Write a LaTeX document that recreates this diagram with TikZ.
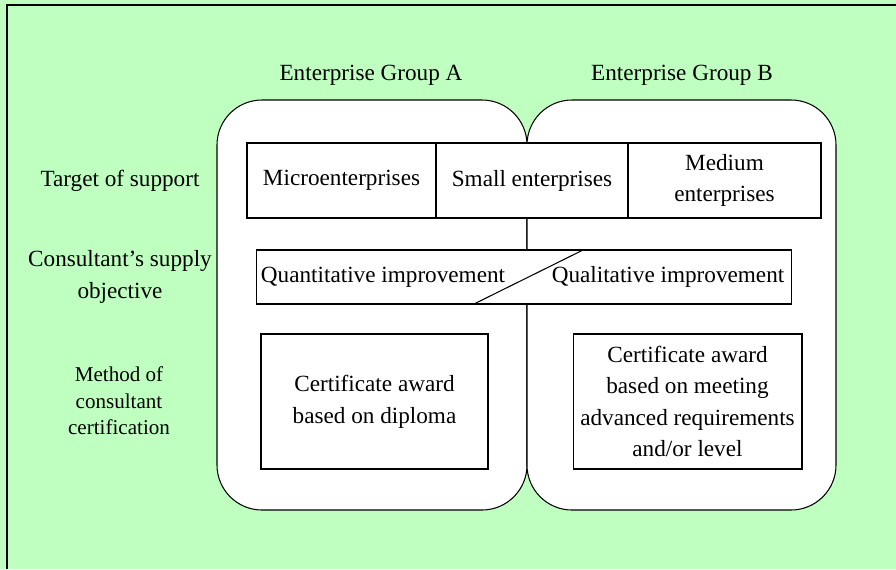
\documentclass[tikz,border=0pt]{standalone}
\usepackage{fontspec}
\setmainfont{Liberation Serif}
\definecolor{bggreen}{RGB}{191,255,191}
\tikzset{
  cell/.style={draw, fill=white, line width=0.6pt, inner sep=0pt, align=center,
               font=\fontsize{13.2}{18}\selectfont},
  lbl/.style={align=center, font=\fontsize{13.2}{18}\selectfont},
  grp/.style={draw, fill=white, line width=0.6pt, rounded corners=0.9cm}
}
\begin{document}
  \begin{tikzpicture}[x=0.02cm, y=-0.02cm]
    \useasboundingbox (0, 0) rectangle (896, 569);
    \fill[bggreen] (0, 0) rectangle (896, 569);
    \draw[line width=0.9pt] (7, 569) -- (7, 5) -- (896, 5);
    \draw[grp] (217, 100) rectangle (527, 510);
    \draw[grp] (527, 100) rectangle (836, 510);
    \node[lbl] (grpA) at (371, 75) {Enterprise Group A};
    \node[lbl] (grpB) at (682, 75) {Enterprise Group B};
    \node[lbl] (target) at (120, 181) {Target of support};
    \node[lbl] (objective) at (120, 277) {Consultant's supply\\objective};
    \node[lbl, font=\fontsize{12}{15}\selectfont] (method) at (119, 401)
      {Method of\\consultant\\certification};
    \node[cell, minimum width=3.78cm, minimum height=1.5cm] (micro) at (341.5, 180.5) {Microenterprises};
    \node[cell, minimum width=3.84cm, minimum height=1.5cm] (small) at (532, 180.5) {Small enterprises};
    \node[cell, minimum width=3.86cm, minimum height=1.5cm] (medium) at (724.5, 180.5) {Medium\\enterprises};
    \node[cell, minimum width=10.72cm, minimum height=1.08cm] (supply) at (524, 277) {};
    \node[lbl] (quant) at (383, 277) {Quantitative improvement};
    \node[lbl] (qual) at (668, 277) {Qualitative improvement};
    \coordinate (slashtop) at (583, 250);
    \coordinate (slashbot) at (474, 304);
    \draw[line width=0.6pt] (slashtop) -- (slashbot);
    \node[cell, minimum width=4.54cm, minimum height=2.7cm] (diploma) at (374.5, 401.5)
      {Certificate award\\based on diploma};
    \node[cell, minimum width=4.58cm, minimum height=2.7cm] (advanced) at (687.5, 401.5)
      {Certificate award\\based on meeting\\advanced requirements\\and/or level};
  \end{tikzpicture}
\end{document}
